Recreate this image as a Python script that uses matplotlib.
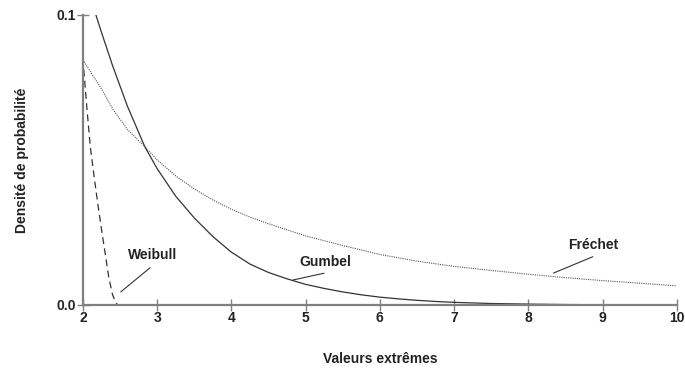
import matplotlib
matplotlib.use('Agg')
import matplotlib.pyplot as plt

plt.rcParams['font.family'] = ['Liberation Sans', 'DejaVu Sans']

# Densities of the three extreme value laws
gumbel_x = [2.175, 2.25, 2.4, 2.6, 2.835, 3.0, 3.25, 3.5, 3.75, 4.0, 4.25, 4.5,
            4.75, 5.0, 5.25, 5.5, 5.75, 6.0, 6.25, 6.5, 6.75, 7.0, 7.5, 8.0,
            8.5, 9.0, 10.0]
gumbel_y = [0.100, 0.094, 0.0825, 0.0685, 0.0545, 0.047, 0.0375, 0.030, 0.0236,
            0.0182, 0.0141, 0.0112, 0.0090, 0.0071, 0.0057, 0.0045, 0.0035,
            0.0027, 0.0021, 0.0016, 0.0012, 0.0009, 0.0005, 0.0003, 0.00015,
            0.00008, 0.00002]

frechet_x = [2.0, 2.25, 2.41, 2.6, 2.835, 3.0, 3.25, 3.5, 3.75, 4.0, 4.25, 4.5,
             5.0, 5.5, 6.0, 6.5, 7.0, 7.5, 8.0, 8.5, 9.0, 9.5, 10.0]
frechet_y = [0.0845, 0.0745, 0.0672, 0.0605, 0.0545, 0.050, 0.0445, 0.040,
             0.0362, 0.0330, 0.0303, 0.0280, 0.0238, 0.0205, 0.0174, 0.0151,
             0.0133, 0.0119, 0.0106, 0.0094, 0.0084, 0.0075, 0.0066]

weibull_x = [2.0, 2.05, 2.10, 2.15, 2.20, 2.25, 2.30, 2.35, 2.40, 2.44, 2.47]
weibull_y = [0.085, 0.069, 0.0545, 0.0445, 0.035, 0.0262, 0.0178, 0.0093,
             0.0035, 0.0010, 0.0]

x_ticks = [2, 3, 4, 5, 6, 7, 8, 9, 10]
y_ticks = [0.0, 0.1]

fig = plt.figure(figsize=(6.85, 3.71), dpi=100)
ax = fig.add_axes([0.121, 0.178, 0.867, 0.782])

ax.plot(gumbel_x, gumbel_y, color='#333333', linewidth=0.9, linestyle='-')
ax.plot(frechet_x, frechet_y, color='#555555', linewidth=0.8, linestyle=(0, (1, 1)))
ax.plot(weibull_x, weibull_y, color='#333333', linewidth=0.9, linestyle=(0, (5.5, 3.5)))

ax.set_xlim(2, 10)
ax.set_ylim(0, 0.1)
ax.set_xticks(x_ticks)
ax.set_yticks(y_ticks)
ax.set_yticklabels(['%.1f' % v for v in y_ticks])

for side in ['top', 'right']:
    ax.spines[side].set_visible(False)
for side in ['left', 'bottom']:
    ax.spines[side].set_color('#808080')
    ax.spines[side].set_linewidth(1.6)
ax.tick_params(direction='inout', length=8, width=1.0, color='#808080',
               labelsize=10)
ax.tick_params(axis='x', pad=0)
ax.tick_params(axis='y', pad=1)
for lbl in ax.get_xticklabels() + ax.get_yticklabels():
    lbl.set_fontweight('bold')
    lbl.set_color('#222222')

ax.set_xlabel('Valeurs extrêmes', fontsize=10, fontweight='bold', labelpad=20,
              color='#222222')
ax.set_ylabel('Densité de probabilité', fontsize=10, fontweight='bold', labelpad=20,
              color='#222222')

# curve labels with leader lines
line_style = dict(arrowstyle='-', color='#333333', lw=0.8, shrinkA=0, shrinkB=0)
ax.annotate('Weibull', xy=(2.51, 0.0045), xytext=(2.94, 0.0172),
            ha='center', va='center', fontsize=10, fontweight='bold', color='#222222',
            arrowprops=dict(line_style, relpos=(0.45, -0.4)))
ax.annotate('Gumbel', xy=(4.83, 0.0086), xytext=(5.27, 0.0148),
            ha='center', va='center', fontsize=10, fontweight='bold', color='#222222',
            arrowprops=dict(line_style, relpos=(0.47, -0.3)))
ax.annotate('Fréchet', xy=(8.34, 0.011), xytext=(8.87, 0.0205),
            ha='center', va='center', fontsize=10, fontweight='bold', color='#222222',
            arrowprops=dict(line_style, relpos=(0.5, -0.3)))

fig.savefig('out.png', dpi=100)
